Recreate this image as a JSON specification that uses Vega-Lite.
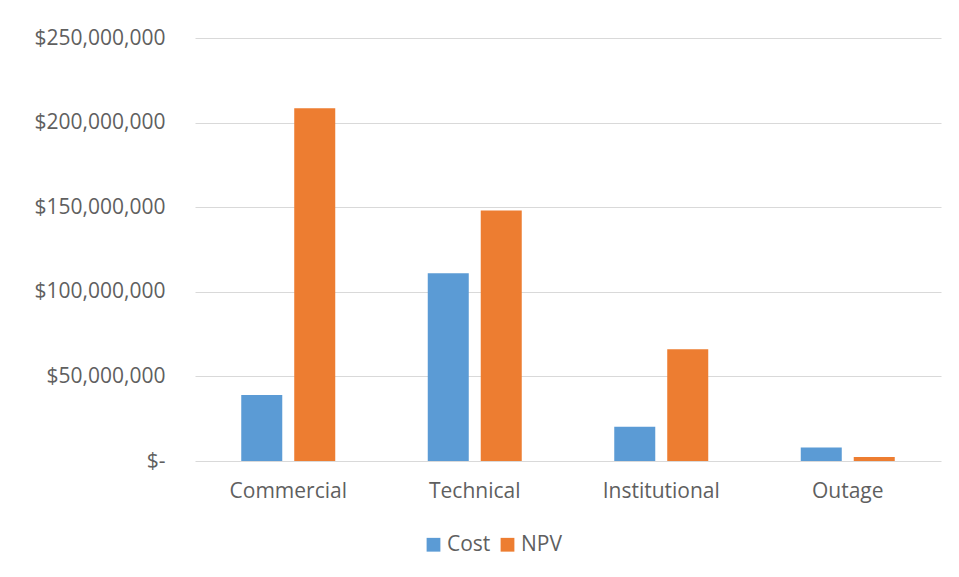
{
  "$schema": "https://vega.github.io/schema/vega-lite/v6.json",
  "width": 746,
  "height": 423,
  "autosize": {"type": "none"},
  "padding": {"left": 195, "top": 38, "right": 18, "bottom": 116},
  "background": "white",
  "config": {
    "view": {"stroke": null},
    "font": "Open Sans"
  },
  "data": {
    "values": [
      {"category": "Commercial", "series": "Cost", "value": 39000000},
      {"category": "Commercial", "series": "NPV", "value": 208500000},
      {"category": "Technical", "series": "Cost", "value": 111000000},
      {"category": "Technical", "series": "NPV", "value": 148000000},
      {"category": "Institutional", "series": "Cost", "value": 20300000},
      {"category": "Institutional", "series": "NPV", "value": 66000000},
      {"category": "Outage", "series": "Cost", "value": 8000000},
      {"category": "Outage", "series": "NPV", "value": 2300000}
    ]
  },
  "mark": {"type": "bar"},
  "encoding": {
    "x": {
      "field": "category",
      "type": "nominal",
      "sort": ["Commercial", "Technical", "Institutional", "Outage"],
      "scale": {"paddingInner": 0.496, "paddingOuter": 0.248},
      "axis": {
        "title": null,
        "labelAngle": 0,
        "domain": false,
        "ticks": false,
        "labelPadding": 19,
        "labelFontSize": 21,
        "labelColor": "#5f5f5f",
        "labelFont": "Open Sans"
      }
    },
    "xOffset": {
      "field": "series",
      "sort": ["Cost", "NPV"],
      "scale": {"paddingInner": 0.226, "paddingOuter": 0}
    },
    "y": {
      "field": "value",
      "type": "quantitative",
      "scale": {"domain": [0, 250000000], "nice": false},
      "axis": {
        "title": null,
        "values": [0, 50000000, 100000000, 150000000, 200000000, 250000000],
        "labelExpr": "datum.value == 0 ? '$-\u00a0\u00a0' : format(datum.value, '$,.0f')",
        "domain": false,
        "ticks": false,
        "labelPadding": 30,
        "labelFontSize": 21,
        "labelColor": "#5f5f5f",
        "labelFont": "Open Sans",
        "gridColor": "#D9D9D9",
        "gridWidth": 1
      }
    },
    "color": {
      "field": "series",
      "type": "nominal",
      "scale": {"domain": ["Cost", "NPV"], "range": ["#5B9BD5", "#ED7D31"]},
      "legend": {
        "title": null,
        "orient": "none",
        "direction": "horizontal",
        "legendX": 228,
        "legendY": 496,
        "symbolType": "square",
        "symbolSize": 190,
        "symbolStrokeWidth": 0,
        "labelFontSize": 21,
        "labelColor": "#5f5f5f",
        "labelFont": "Open Sans",
        "columnPadding": 6,
        "labelOffset": 3
      }
    }
  }
}
